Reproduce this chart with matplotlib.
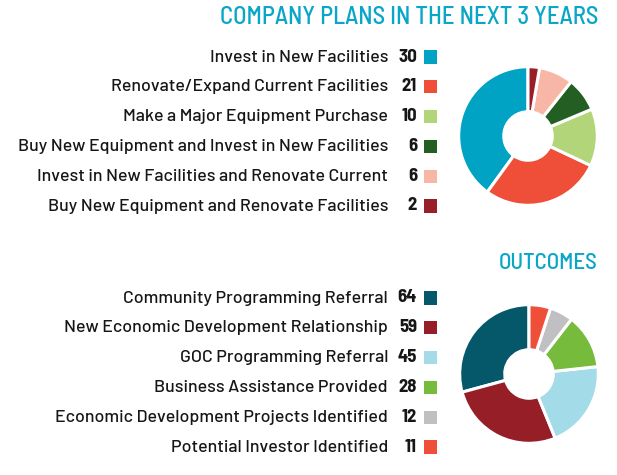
import matplotlib
matplotlib.use("Agg")
import matplotlib.pyplot as plt

# data
plans_labels = ["Invest in New Facilities",
                "Renovate/Expand Current Facilities",
                "Make a Major Equipment Purchase",
                "Buy New Equipment and Invest in New Facilities",
                "Invest in New Facilities and Renovate Current",
                "Buy New Equipment and Renovate Facilities"]
plans_values = [30, 21, 10, 6, 6, 2]
plans_colors = ["#00a3c4", "#ef4f38", "#b3d57a", "#235e22", "#f8b7a6", "#981e27"]

outcome_labels = ["Community Programming Referral",
                  "New Economic Development Relationship",
                  "GOC Programming Referral",
                  "Business Assistance Provided",
                  "Economic Development Projects Identified",
                  "Potential Investor Identified"]
outcome_values = [64, 59, 45, 28, 12, 11]
outcome_colors = ["#045869", "#961f27", "#a4dbe8", "#76bb3b", "#c0c0c2", "#ef4f38"]

W, H = 617, 475
fig = plt.figure(figsize=(W / 100, H / 100), dpi=100)

title_font = ["Barlow Semi Condensed", "DejaVu Sans"]
label_font = ["Barlow", "Barlow Semi Condensed", "DejaVu Sans"]
num_font = ["Barlow Semi Condensed", "DejaVu Sans"]

ax = fig.add_axes([0, 0, 1, 1])
ax.set_xlim(0, W)
ax.set_ylim(H, 0)
ax.axis("off")

title_color = "#0aa6c8"
text_color = "#161616"


def block(title, title_y, title_size, labels, values, colors, row0, pie_center):
    ax.text(598, title_y, title, ha="right", va="center", fontsize=title_size,
            color=title_color, fontweight="medium", family=title_font)
    ys = [row0 + 29.8 * i for i in range(len(values))]
    ax.scatter([430.5] * len(values), ys, marker="s", s=90, c=colors, linewidths=0)
    for y, lab, v in zip(ys, labels, values):
        ax.text(417, y, str(v), ha="right", va="center", fontsize=13.5,
                fontweight="bold", color=text_color, family=num_font)
        ax.text(388, y, lab, ha="right", va="center", fontsize=12.8,
                fontweight="medium", color=text_color, family=label_font)
    cx, cy = pie_center
    r = 70
    pax = fig.add_axes([(cx - r) / W, 1 - (cy + r) / H, 2 * r / W, 2 * r / H])
    pax.pie(values, colors=colors, startangle=90, counterclock=True,
            wedgeprops=dict(width=0.65, edgecolor="white", linewidth=2.2))
    pax.set_xlim(-1.01, 1.01)
    pax.set_ylim(-1.01, 1.01)
    pax.set_aspect("equal")


block("COMPANY PLANS IN THE NEXT 3 YEARS", 17, 17.8, plans_labels, plans_values,
      plans_colors, 57, (528, 136))
block("OUTCOMES", 263, 16.5, outcome_labels, outcome_values, outcome_colors,
      298, (529, 374))

fig.savefig("out.png", dpi=100, facecolor="white")
